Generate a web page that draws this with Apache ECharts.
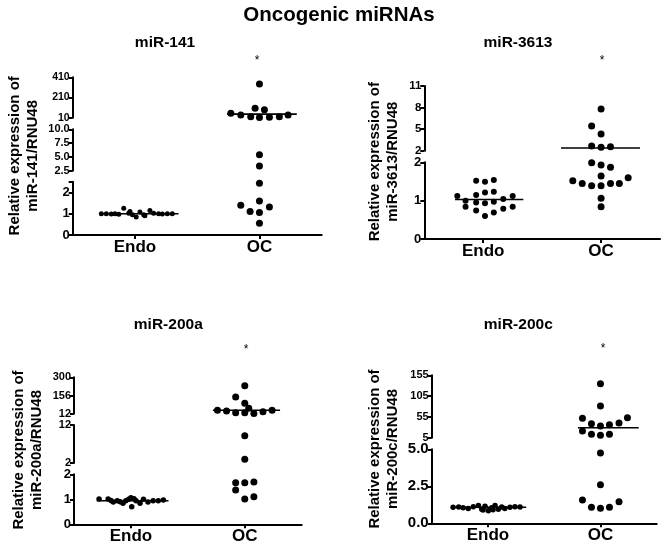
<!DOCTYPE html>
<html><head><meta charset="utf-8">
<script src="https://cdn.jsdelivr.net/npm/echarts@6/dist/echarts.min.js"></script>
<style>html,body{margin:0;padding:0;background:#fff}#c{width:667px;height:549px}</style>
</head><body><div id="c"></div>
<script>
const categories = ['Endo', 'OC'];
const mainTitle = 'Oncogenic miRNAs';

// miR-141
const endo141X = [-0.27,-0.23,-0.19,-0.16,-0.13,-0.09,-0.05,-0.04,-0.02,0.01,0.04,0.07,0.08,0.12,0.15,0.19,0.22,0.26,0.30];
const endo141Y = [1.0,1.0,0.98,1.0,0.97,1.25,1.02,1.1,0.95,0.85,1.08,0.95,0.9,1.15,1.02,1.0,0.98,1.0,1.0];
const oc141X = [0,-0.035,0.04,-0.23,-0.15,-0.07,0,0.08,0.16,0.23,0,0,0,-0.15,0,0.08,-0.075,0,0];
const oc141Y = [344,103,89,54,37,20,11,14,20,37,5.4,3.35,2.43,1.39,1.6,1.31,1.1,1.06,0.55];
const med141 = [1.0, 45];

// miR-3613
const endo3613X = [-0.06,0.015,0.09,-0.22,-0.15,-0.06,0.015,0.09,-0.06,0.015,0.09,0.17,0.25,-0.15,-0.06,0.015,0.09,0.17,0.25];
const endo3613Y = [1.52,1.49,1.54,1.12,1.00,1.15,1.21,1.23,0.95,0.93,0.97,1.04,1.12,0.84,0.74,0.60,0.69,0.79,0.84];
const oc3613X = [0,-0.08,0,-0.08,0,0.08,-0.08,0,0.08,0,-0.24,-0.16,-0.08,0,0.08,0.155,0.23,0,0];
const oc3613Y = [7.8,5.43,4.32,2.65,2.47,2.56,1.99,1.93,1.87,1.64,1.52,1.45,1.39,1.39,1.45,1.45,1.60,1.06,0.84];
const med3613 = [1.03, 2.38];

// miR-200a
const endo200aX = [-0.28,-0.2,-0.155,-0.12,-0.07,-0.045,0,0.007,0.045,0.08,0.11,0.15,0.195,0.24,0.285,-0.175,-0.02,0.027,-0.095];
const endo200aY = [1.01,1.01,0.89,0.94,0.84,0.94,1.06,0.70,0.94,0.84,1.0,0.89,0.94,0.94,0.97,0.95,1.0,1.02,0.9];
const oc200aX = [0,-0.08,0,-0.24,-0.16,-0.08,0,0.035,0.08,0.16,0.24,0,0,-0.08,0,0.08,-0.08,0,0.08];
const oc200aY = [233,144,94,39,33,20,20,55,13,28,39,9.2,2.97,1.66,1.66,1.69,1.37,1.01,1.1];
const med200a = [0.94, 39];

// miR-200c
const endo200cX = [-0.31,-0.26,-0.22,-0.175,-0.13,-0.085,-0.055,-0.026,0.003,0.033,0.063,0.092,0.122,0.15,0.196,0.24,0.285,-0.044,0.045];
const endo200cY = [1.08,1.1,1.05,1.0,1.12,1.2,0.95,1.15,0.85,1.05,1.2,0.95,1.1,1.0,1.08,1.12,1.1,0.9,0.92];
const oc200cX = [0,0,-0.16,0.24,-0.08,0,0.08,0.165,-0.16,-0.08,0,0.08,0,0,-0.16,-0.08,0,0.08,0.165];
const oc200cY = [134.8,81.2,51.6,53.1,38.7,33.1,36.3,40.3,21.1,13.2,10.8,13.2,4.75,2.61,1.57,1.08,1.01,1.08,1.46];
const med200c = [1.08, 29];

const FONT = '"Liberation Sans", Arial, Helvetica, sans-serif';

const panels = [
  { name: 'miR-141', ytitle: 'Relative expression of\nmiR-141/RNU48',
    endoX: endo141X, endoY: endo141Y, ocX: oc141X, ocY: oc141Y, med: med141,
    left: 72.7, width: 249, endoSize: 5, medSpan: [[0.22, 0.85], [1.24, 1.8]],
    titlePos: [165, 43], starPos: [257, 61], yTitlePos: [24.2, 155.8],
    segs: [
      { min: 0, max: 2.5, top: 181.7, bottom: 235, ticks: [0,1,2,2.5], labels: [0,1,2], fs: 13, dec: 0 },
      { min: 2.5, max: 10, top: 129.3, bottom: 170.7, ticks: [2.5,5,7.5,10], labels: [2.5,5,7.5,10], fs: 11, dec: 1 },
      { min: 10, max: 410, top: 77.3, bottom: 117.7, ticks: [10,210,410], labels: [10,210,410], fs: 10.5, dec: 0 }
    ] },
  { name: 'miR-3613', ytitle: 'Relative expression of\nmiR-3613/RNU48',
    endoX: endo3613X, endoY: endo3613Y, ocX: oc3613X, ocY: oc3613Y, med: med3613,
    left: 424.3, width: 235.7, endoSize: 6, medSpan: [[0.26, 0.84], [1.16, 1.83]],
    titlePos: [518, 43], starPos: [602, 61], yTitlePos: [384.2, 161.7],
    segs: [
      { min: 0, max: 2, top: 162.3, bottom: 239, ticks: [0,1,2], labels: [0,1,2], fs: 13, dec: 0 },
      { min: 2, max: 11, top: 86, bottom: 150.7, ticks: [2,5,8,11], labels: [2,5,8,11], fs: 11.5, dec: 0 }
    ] },
  { name: 'miR-200a', ytitle: 'Relative expression of\nmiR-200a/RNU48',
    endoX: endo200aX, endoY: endo200aY, ocX: oc200aX, ocY: oc200aY, med: med200a,
    left: 74, width: 227.7, endoSize: 5.5, medSpan: [[0.2, 0.83], [1.22, 1.81]],
    titlePos: [168.3, 325], starPos: [246, 349.5], yTitlePos: [27.5, 450],
    segs: [
      { min: 0, max: 2, top: 474.3, bottom: 524.3, ticks: [0,1,2], labels: [0,1,2], fs: 13, dec: 0 },
      { min: 2, max: 12, top: 425, bottom: 463, ticks: [2,12], labels: [2,12], fs: 11, dec: 0 },
      { min: 12, max: 300, top: 377.3, bottom: 413.7, ticks: [12,156,300], labels: [12,156,300], fs: 11, dec: 0 }
    ] },
  { name: 'miR-200c', ytitle: 'Relative expression of\nmiR-200c/RNU48',
    endoX: endo200cX, endoY: endo200cY, ocX: oc200cX, ocY: oc200cY, med: med200c,
    left: 431.7, width: 225, endoSize: 5.5, medSpan: [[0.18, 0.84], [1.3, 1.84]],
    titlePos: [518.3, 325], starPos: [603, 349], yTitlePos: [384.2, 449],
    segs: [
      { min: 0, max: 5, top: 449.3, bottom: 523.3, ticks: [0,2.5,5], labels: [0,2.5,5], fs: 15, dec: 1 },
      { min: 5, max: 155, top: 375.3, bottom: 437.7, ticks: [5,55,105,155], labels: [5,55,105,155], fs: 11, dec: 0 }
    ] }
];

const grids = [], xAxes = [], yAxes = [], series = [], graphic = [];
const black = '#000';

graphic.push({ type: 'text', x: 339, y: 15, style: { text: mainTitle, font: 'bold 20.5px ' + FONT, fill: black, align: 'center', verticalAlign: 'middle' } });

panels.forEach(p => {
  const segOf = v => { for (let s = 0; s < p.segs.length; s++) { if (v >= p.segs[s].min && v <= p.segs[s].max) return s; } return p.segs.length - 1; };
  const segAxes = [];
  p.segs.forEach((seg, s) => {
    const g = grids.length;
    grids.push({ left: p.left, width: p.width, top: seg.top, height: seg.bottom - seg.top, containLabel: false, outerBoundsMode: 'none' });
    const xi = xAxes.length;
    xAxes.push({ type: 'value', gridIndex: g, min: 0, max: 2, show: false, position: 'top' });
    if (s === 0) {
      xAxes.push({ type: 'category', gridIndex: g, data: categories, position: 'bottom',
        axisLine: { show: true, lineStyle: { color: black, width: 2 } },
        axisTick: { show: true, alignWithLabel: true, length: 4, lineStyle: { color: black, width: 2 } },
        axisLabel: { color: black, fontWeight: 'bold', fontSize: 17, fontFamily: FONT, margin: 4 },
        splitLine: { show: false } });
    }
    const yi = yAxes.length;
    yAxes.push({ type: 'value', gridIndex: g, min: seg.min, max: seg.max,
      axisLine: { show: true, lineStyle: { color: black, width: 2 } },
      axisTick: { show: true, inside: false, length: 4, customValues: seg.ticks, lineStyle: { color: black, width: 2 } },
      axisLabel: { show: true, customValues: seg.labels, margin: 3, color: black, fontWeight: 'bold', fontSize: seg.fs, fontFamily: FONT,
        formatter: v => Number(v).toFixed(seg.dec) },
      splitLine: { show: false } });
    segAxes.push({ xi, yi });
  });

  const addPoints = (xs, ys, center, size) => {
    const buckets = p.segs.map(() => []);
    ys.forEach((v, i) => buckets[segOf(v)].push([center + xs[i], v]));
    buckets.forEach((d, s) => {
      if (!d.length) return;
      series.push({ type: 'scatter', xAxisIndex: segAxes[s].xi, yAxisIndex: segAxes[s].yi, data: d,
        symbol: 'circle', symbolSize: size, itemStyle: { color: black, opacity: 1 }, clip: false, silent: true, animation: false });
    });
  };
  addPoints(p.endoX, p.endoY, 0.5, p.endoSize);
  addPoints(p.ocX, p.ocY, 1.5, 7);

  p.med.forEach((m, k) => {
    const s = segOf(m);
    series.push({ type: 'line', xAxisIndex: segAxes[s].xi, yAxisIndex: segAxes[s].yi,
      data: [[p.medSpan[k][0], m], [p.medSpan[k][1], m]], symbol: 'none', silent: true, animation: false,
      lineStyle: { color: black, width: 1.6 } });
  });

  graphic.push({ type: 'text', x: p.titlePos[0], y: p.titlePos[1], style: { text: p.name, font: 'bold 15.5px ' + FONT, fill: black, align: 'center', verticalAlign: 'middle' } });
  graphic.push({ type: 'text', x: p.starPos[0], y: p.starPos[1], style: { text: '*', font: '12px ' + FONT, fill: black, align: 'center', verticalAlign: 'middle' } });
  graphic.push({ type: 'text', x: p.yTitlePos[0], y: p.yTitlePos[1], rotation: Math.PI / 2,
    style: { text: p.ytitle, font: 'bold 15px ' + FONT, fill: black, align: 'center', verticalAlign: 'middle', lineHeight: 18 } });
});

const chart = echarts.init(document.getElementById('c'), null, { renderer: 'canvas' });
chart.setOption({ backgroundColor: '#fff', animation: false, grid: grids, xAxis: xAxes, yAxis: yAxes, series, graphic });
</script>
</body></html>
